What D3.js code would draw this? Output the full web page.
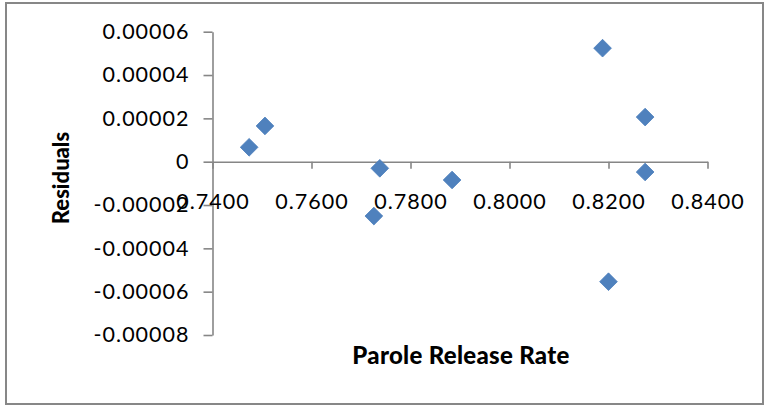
<!DOCTYPE html>
<html>
<head>
<meta charset="utf-8">
<script src="https://cdn.jsdelivr.net/npm/d3@7"></script>
<style>
  html, body { margin: 0; padding: 0; background: #fff; }
  svg { display: block; }
  .tick text { font-family: Lato, "Open Sans", sans-serif; font-size: 21.5px; letter-spacing: 1px; fill: #000; }
  .title { font-family: Lato, "Open Sans", sans-serif; font-weight: 900; fill: #000; }
</style>
</head>
<body>
<svg id="chart" width="767" height="406"></svg>
<script>
// Parole release rate vs. regression residuals
const releaseRate = [0.7474, 0.7506, 0.7726, 0.7738, 0.7884, 0.8188, 0.8200, 0.8274, 0.8274];
const residuals   = [6.65e-6, 16.5e-6, -25.1e-6, -3.05e-6, -8.45e-6, 52.4e-6, -55.4e-6, 20.6e-6, -4.76e-6];

const xTicks = [0.74, 0.76, 0.78, 0.80, 0.82, 0.84];
const xTickLabels = ["0.7400", "0.7600", "0.7800", "0.8000", "0.8200", "0.8400"];
const yTicks = [0.00006, 0.00004, 0.00002, 0, -0.00002, -0.00004, -0.00006, -0.00008];
const yTickLabels = ["0.00006", "0.00004", "0.00002", "0", "-0.00002", "-0.00004", "-0.00006", "-0.00008"];

const svg = d3.select("#chart");
const axisColor = "#868686";

// outer chart frame
svg.append("rect")
  .attr("x", 6).attr("y", 3).attr("width", 757).attr("height", 401)
  .attr("fill", "#fff").attr("stroke", "#878787").attr("stroke-width", 2);

const x = d3.scaleLinear().domain([0.74, 0.84]).range([212.5, 707.5]);
const y = d3.scaleLinear().domain([-0.00008, 0.00006]).range([335, 31.7]);

// y axis at x = 0.74
const yAxis = svg.append("g")
  .attr("transform", `translate(${x(0.74)},0)`)
  .call(d3.axisLeft(y).tickValues(yTicks)
    .tickFormat((d, i) => yTickLabels[i])
    .tickSize(9).tickPadding(14).tickSizeOuter(0));

// x axis crossing at residual 0
const xAxis = svg.append("g")
  .attr("transform", `translate(0,${y(0)})`)
  .call(d3.axisBottom(x).tickValues(xTicks)
    .tickFormat((d, i) => xTickLabels[i])
    .tickSize(7).tickPadding(25).tickSizeOuter(0));

[yAxis, xAxis].forEach(g => {
  g.select(".domain").attr("stroke", axisColor).attr("stroke-width", 1.6);
  g.selectAll(".tick line").attr("stroke", axisColor).attr("stroke-width", 1.6);
});

// diamond markers
const diamond = d3.symbol().type(d3.symbolDiamond2).size(200);
svg.append("g").selectAll("path")
  .data(releaseRate.map((r, i) => [r, residuals[i]]))
  .join("path")
  .attr("d", diamond)
  .attr("transform", d => `translate(${x(d[0])},${y(d[1])})`)
  .attr("fill", "#4F81BD")
  .attr("stroke", "#4A7EBB")
  .attr("stroke-width", 0.8);

// axis titles
svg.append("text").attr("class", "title")
  .attr("x", 461).attr("y", 364)
  .attr("text-anchor", "middle")
  .style("font-size", "24px").style("letter-spacing", "0.3px")
  .text("Parole Release Rate");

svg.append("text").attr("class", "title")
  .attr("transform", "translate(69,178) rotate(-90)")
  .attr("text-anchor", "middle")
  .style("font-size", "22px")
  .text("Residuals");
</script>
</body>
</html>
